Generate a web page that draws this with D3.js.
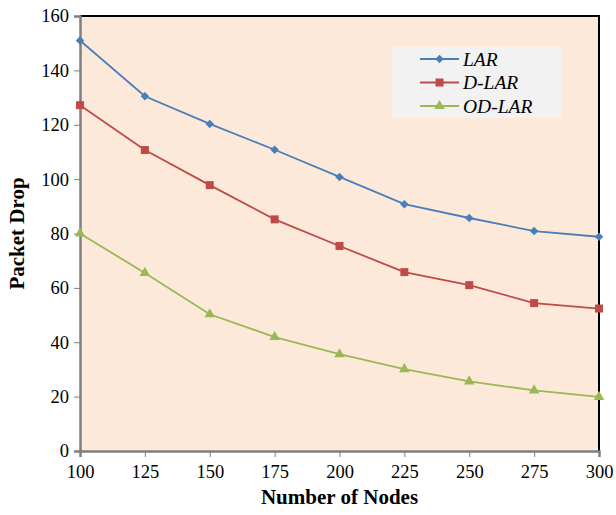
<!DOCTYPE html>
<html lang="en">
  <head>
    <meta charset="utf-8">
    <title>Packet Drop</title>
    <style>
      body { margin: 0; background: #fff; }
      text { font-family: "Liberation Serif", "Times New Roman", serif; }
    </style>
  </head>
  <body>
<script src="https://d3js.org/d3.v7.min.js"></script>
<script>
var nodesX = [100, 125, 150, 175, 200, 225, 250, 275, 300];
var lar    = [151, 130.5, 120.3, 110.8, 100.8, 90.8, 85.7, 80.9, 78.8];
var dlar   = [127.2, 110.7, 97.8, 85.2, 75.4, 65.8, 61, 54.4, 52.4];
var odlar  = [80, 65.5, 50.3, 41.9, 35.6, 30.1, 25.6, 22.3, 19.9];
var yTicks = [0, 20, 40, 60, 80, 100, 120, 140, 160];
var seriesNames = ["LAR", "D-LAR", "OD-LAR"];

// diamond drawn as a square turned 45 degrees
var diamond = {
  draw: function(ctx, size) {
    var r = Math.sqrt(size / 2);
    ctx.moveTo(0, -r); ctx.lineTo(r, 0); ctx.lineTo(0, r); ctx.lineTo(-r, 0); ctx.closePath();
  }
};

var series = [
  {name: seriesNames[0], values: lar,   color: "#4a7ebb", shape: diamond,          size: 36},
  {name: seriesNames[1], values: dlar,  color: "#be4b48", shape: d3.symbolSquare,   size: 64},
  {name: seriesNames[2], values: odlar, color: "#98b954", shape: d3.symbolTriangle, size: 48}
];

var margin = {top: 16, right: 17, bottom: 64, left: 80},
    W = 616, H = 515,
    w = W - margin.left - margin.right,
    h = H - margin.top - margin.bottom;

var svg = d3.select("body").append("svg")
  .attr("width", W)
  .attr("height", H);

var g = svg.append("g")
  .attr("transform", "translate(" + margin.left + "," + margin.top + ")");

var x = d3.scaleLinear().domain([100, 300]).range([0, w]);
var y = d3.scaleLinear().domain([0, 160]).range([h, 0]);

// plot background
g.append("rect")
  .attr("width", w).attr("height", h)
  .attr("fill", "#fde9da");

// top and right border
g.append("path")
  .attr("d", "M0,0H" + w + "V" + h)
  .attr("fill", "none")
  .attr("stroke", "#000")
  .attr("stroke-width", 2);

// axes
var yAxis = g.append("g")
  .call(d3.axisLeft(y).tickValues(yTicks).tickSize(6).tickPadding(5));
var xAxis = g.append("g")
  .attr("transform", "translate(0," + h + ")")
  .call(d3.axisBottom(x).tickValues(nodesX).tickSize(6).tickPadding(8));

[yAxis, xAxis].forEach(function(a) {
  a.attr("font-family", null);
  a.select(".domain").attr("stroke", "#7f7f7f").attr("stroke-width", 2.5);
  a.selectAll(".tick line").attr("stroke", "#7f7f7f");
  a.selectAll(".tick text")
    .attr("fill", "#000")
    .style("font-size", "18.5px");
});

// lines
var line = d3.line()
  .x(function(d, i) { return x(nodesX[i]); })
  .y(function(d) { return y(d); });

series.forEach(function(s) {
  g.append("path")
    .datum(s.values)
    .attr("d", line)
    .attr("fill", "none")
    .attr("stroke", s.color)
    .attr("stroke-width", 1.8);

  g.selectAll(null)
    .data(s.values)
    .enter()
    .append("path")
      .attr("transform", function(d, i) { return "translate(" + x(nodesX[i]) + "," + y(d) + ")"; })
      .attr("d", d3.symbol().type(s.shape).size(s.size))
      .attr("fill", s.color);
});

// legend
var legend = svg.append("g").attr("transform", "translate(392,47)");
legend.append("rect")
  .attr("width", 170).attr("height", 71)
  .attr("fill", "#f2f2f2");

series.forEach(function(s, i) {
  var row = legend.append("g").attr("transform", "translate(0," + (12 + i * 23.5) + ")");
  row.append("line")
    .attr("x1", 28).attr("x2", 67)
    .attr("stroke", s.color).attr("stroke-width", 1.8);
  row.append("path")
    .attr("transform", "translate(47.5,0)")
    .attr("d", d3.symbol().type(s.shape).size(s.size))
    .attr("fill", s.color);
  row.append("text")
    .attr("x", 71).attr("dy", "0.35em")
    .style("font-size", "19.5px")
    .style("font-style", "italic")
    .text(s.name);
});

// axis titles
svg.append("text")
  .attr("x", margin.left + w / 2).attr("y", 504)
  .attr("text-anchor", "middle")
  .style("font-size", "21px").style("font-weight", "bold")
  .text("Number of Nodes");

svg.append("text")
  .attr("transform", "translate(24," + (margin.top + h / 2) + ") rotate(-90)")
  .attr("text-anchor", "middle")
  .style("font-size", "21px").style("font-weight", "bold")
  .text("Packet Drop");
</script>
  </body>
</html>
